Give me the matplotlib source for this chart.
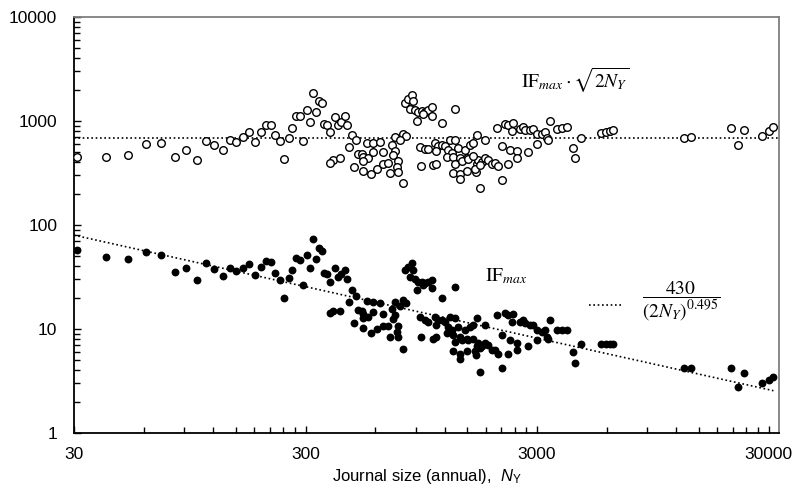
import numpy as np
import matplotlib
matplotlib.use("Agg")
import matplotlib.pyplot as plt
from matplotlib.ticker import FixedLocator, NullFormatter

plt.rcParams['font.family'] = ['Liberation Sans', 'DejaVu Sans']
plt.rcParams['mathtext.fontset'] = 'custom'
plt.rcParams['mathtext.rm'] = 'Liberation Sans'
plt.rcParams['mathtext.it'] = 'Liberation Sans:italic'
plt.rcParams['mathtext.bf'] = 'Liberation Sans:bold'

# Annual journal size N_Y and maximal impact factor IF_max
journal_size = np.array([
    31, 41.2, 51.3, 61.4, 71.3, 81.7, 91.4, 101.6, 111.4, 121, 131.6, 141.9, 151,
    161.5, 171.4, 182, 191.9, 202.3, 212.8, 222, 232.8, 242, 253.6, 262.3, 272.3,
    284, 292.6, 303.5, 313.6, 322, 332.8, 343, 352, 361.5, 372.4, 382.5, 403.6, 413,
    426.6, 442.6, 454.6, 392.6, 422.7, 476, 494, 463.7, 485.6, 507, 524, 533, 560,
    589, 551, 589, 533, 574, 613, 807, 834, 862, 877, 847, 891, 921, 952, 985, 1017,
    1052, 968, 906, 1052, 1327, 1162, 629, 731, 789, 815, 768, 707, 650, 731, 718,
    650, 684, 755, 743, 695, 755, 794, 938, 985, 1017, 1087, 1122, 1161, 1104, 1200,
    1261, 1327, 1241, 1283, 1370, 1465, 1540, 1592, 1657, 1222, 1305, 1397, 1490,
    1327, 1420, 1516, 1305, 1397, 1490, 1397, 1645, 1670, 1633, 946, 1071, 1104,
    1786, 2009, 2183, 2256, 2371, 2333, 2535, 2620, 2663, 2798, 2892, 2991, 3143,
    3250, 3415, 3300, 3357, 3656, 3846, 4046, 1730, 1786, 1848, 1910, 1976, 2043,
    1617, 1701, 2111, 2292, 2449, 2256, 2449, 2749, 2991, 1701, 2111, 4277, 4375,
    4631, 5667, 5960, 6200, 6410, 12950, 13840, 20650, 23500, 22230, 28200, 30220,
    31450, 1592, 533, 383,
])
if_max = np.array([
    57.5, 49.5, 46.8, 54.6, 51.5, 35.3, 38.9, 29.6, 42.8, 37.8, 32.6, 38.9, 36.4,
    38.9, 41.9, 33.0, 39.7, 45.4, 44.4, 34.8, 29.8, 19.7, 30.7, 37.2, 47.8,
    46.4, 26.5, 51.5, 38.9, 72.8, 47.4, 59.7, 55.9, 34.8, 33.6, 28.5, 38.6, 31.8,
    33.6, 37.2, 30.3, 15.0, 15.0, 23.7, 20.8, 18.3, 11.5, 15.2, 15.0, 13.9, 13.1,
    14.7, 18.6, 18.0, 10.2, 9.2, 9.9, 36.9, 39.7, 42.8, 36.9, 31.8, 30.0, 28.5, 28.5, 27.5, 28.5,
    29.6, 26.5, 23.7, 24.6, 25.5, 19.7, 17.9, 18.3, 19.0, 17.7, 16.6, 15.5, 13.9, 13.6, 12.4,
    10.7, 10.7, 10.7, 9.4, 8.4, 8.3, 6.4, 13.1, 12.2, 11.8, 13.1, 12.2, 12.2, 10.9, 11.8,
    13.1, 12.7, 10.5, 9.8, 10.5, 9.8, 10.5, 10.9, 12.7, 9.1, 8.8, 8.4, 8.1,
    7.5, 7.8, 7.8, 6.2, 5.8, 6.1, 5.2, 6.8, 7.3, 5.6, 8.4, 8.1, 8.3,
    10.9, 13.6, 14.2, 13.6, 13.9, 11.8, 11.8, 12.2, 11.3, 10.9, 10.9, 9.8, 9.4,
    9.8, 12.2, 8.4, 8.1, 9.8, 9.8, 9.8, 6.8, 7.3, 7.0, 6.3, 6.3, 5.8,
    6.1, 6.5, 8.8, 7.8, 7.3, 5.8, 6.3, 6.8, 7.8, 3.9, 4.2, 6.0, 4.7,
    7.2, 7.2, 7.2, 7.2, 7.2, 4.25, 4.25, 4.25, 3.75, 2.79, 3.05, 3.23,
    3.48, 8.1, 12.7, 14.2,
])
# Plotted upper series as labelled on the chart: IF_max * sqrt(2 N_Y)
if_scaled = if_max * np.sqrt(2 * journal_size)

fit_coef = 430
fit_exp = 0.495
scaled_level = 690

x_major = [30, 300, 3000, 30000]
x_major_labels = ['30', '300', '3000', '30000']
y_major = [1, 10, 100, 1000, 10000]
y_major_labels = ['1', '10', '100', '1000', '10000']

fig = plt.figure(figsize=(7.95, 4.88), dpi=100)
ax = fig.add_axes([74/795, 1-433/488, 705/795, 416/488])
ax.set_xscale('log')
ax.set_yscale('log')
ax.set_xlim(30, 33300)
ax.set_ylim(1, 10000)

dot = (0, (1, 1.6))
xfit = np.array([30, 31500])
ax.plot(xfit, fit_coef * xfit ** (-fit_exp), color='black', lw=1.2, ls=dot, zorder=1)
ax.plot([30, 33300], [scaled_level, scaled_level], color='black', lw=1.2, ls=dot, zorder=1)

ax.scatter(journal_size, if_scaled, s=30, facecolors='white', edgecolors='black',
           linewidths=1.0, zorder=3)
ax.scatter(journal_size, if_max, s=32, color='black', linewidths=0, zorder=3)

# ticks
ax.xaxis.set_major_locator(FixedLocator(x_major))
ax.set_xticklabels(x_major_labels)
xminor = [m * k for m in [30, 300, 3000] for k in range(2, 10)]
ax.xaxis.set_minor_locator(FixedLocator(xminor))
ax.xaxis.set_minor_formatter(NullFormatter())
ax.yaxis.set_major_locator(FixedLocator(y_major))
ax.set_yticklabels(y_major_labels)
yminor = [m * k for m in [1, 10, 100, 1000] for k in range(2, 10)]
ax.yaxis.set_minor_locator(FixedLocator(yminor))
ax.yaxis.set_minor_formatter(NullFormatter())
ax.tick_params(axis='both', which='both', direction='in', color='black',
               top=False, right=False, labelsize=12.5)
ax.tick_params(axis='both', which='major', length=5, width=1.0)
ax.tick_params(axis='both', which='minor', length=4, width=1.0)
ax.tick_params(axis='y', which='major', pad=12)
ax.tick_params(axis='x', which='major', pad=10)

for s in ['left', 'bottom']:
    ax.spines[s].set_color('black')
    ax.spines[s].set_linewidth(1.3)
for s in ['top', 'right']:
    ax.spines[s].set_color('#7f7f7f')
    ax.spines[s].set_linewidth(1.3)

ax.set_xlabel(r'Journal size (annual),  $\mathit{N}_{\mathrm{Y}}$', fontsize=12, labelpad=4)

# annotations
fig.text(575/795, 1-80/488, r'$\mathrm{IF}_{max}\cdot\sqrt{2N_Y}$', fontsize=14,
         ha='center', va='center', math_fontfamily='stix')
fig.text(506/795, 1-276/488, r'$\mathrm{IF}_{max}$', fontsize=14,
         ha='center', va='center', math_fontfamily='stix')
fig.text(681/795, 1-301/488, r'$\dfrac{430}{(2N_Y)^{0.495}}$', fontsize=14,
         ha='center', va='center', math_fontfamily='stix')
fig.lines.append(plt.Line2D([589/795, 621/795], [1-305/488, 1-305/488],
                            transform=fig.transFigure, color='black', lw=1.2, ls=dot))

fig.savefig('out.png', dpi=100)
